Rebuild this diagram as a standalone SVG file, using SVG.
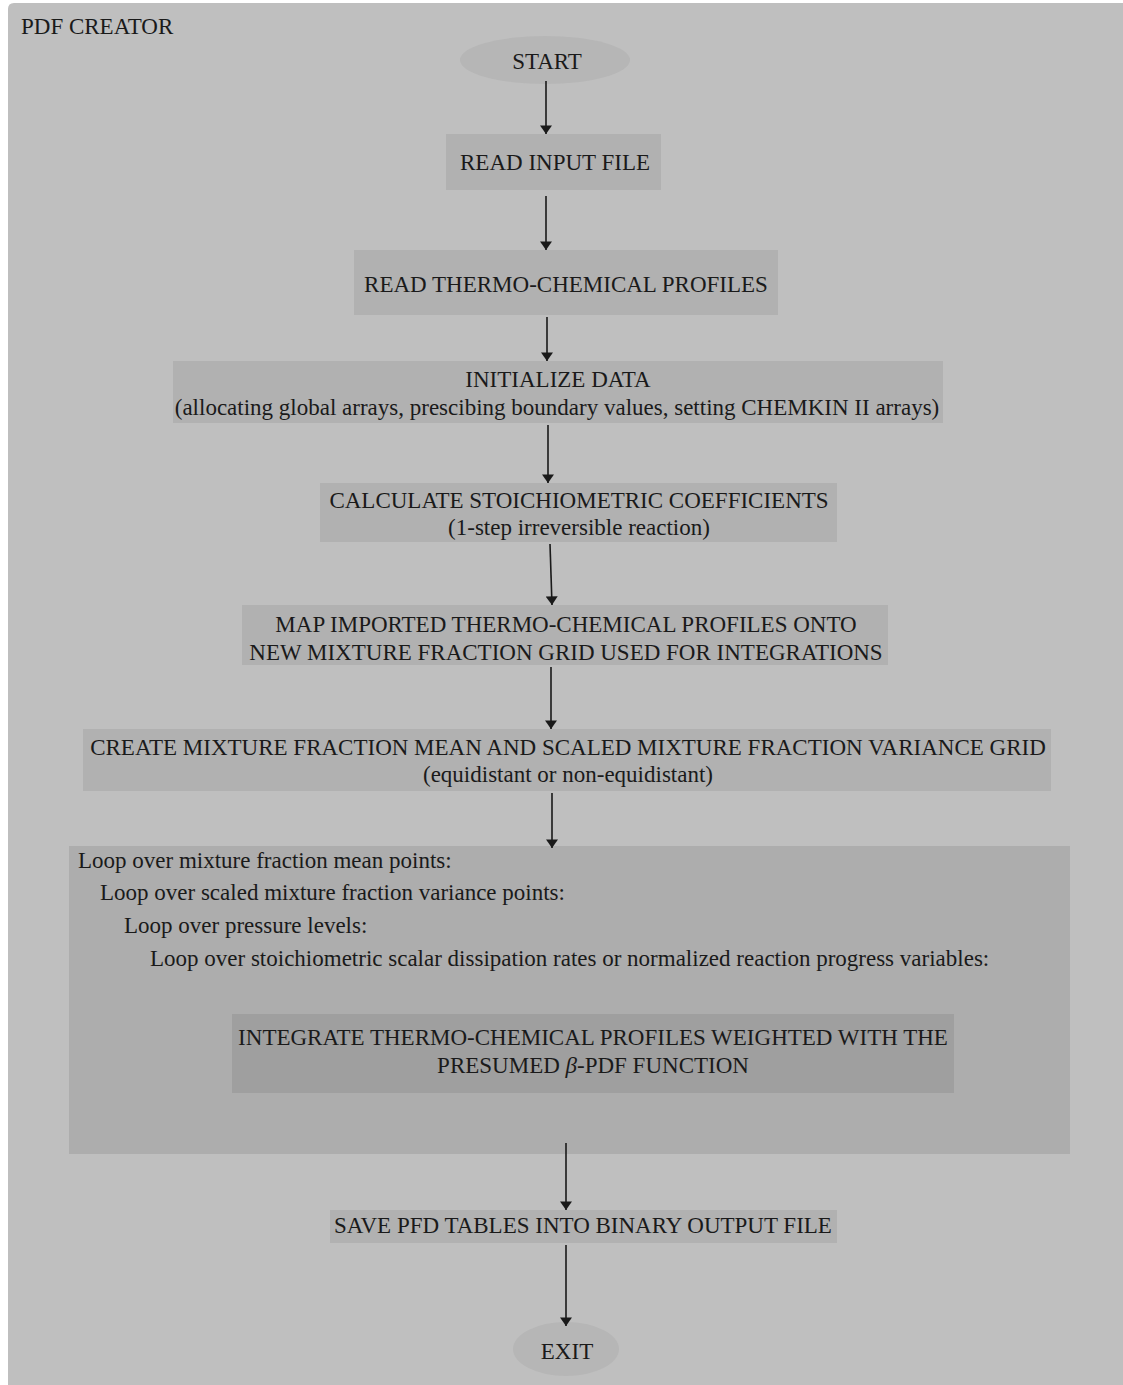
<svg xmlns="http://www.w3.org/2000/svg" width="1123" height="1385" viewBox="0 0 1123 1385">
<style>
text{font-family:"Liberation Serif","Times New Roman",serif;font-size:23px;fill:#1a1a1a}
.c{text-anchor:middle}
.box{fill:#b1b1b1}
.ell{fill:#b6b6b6}
.conn line{stroke:#1a1a1a;stroke-width:1.6;marker-end:url(#ah)}
</style>
<defs>
<marker id="ah" viewBox="0 0 10 14" refX="10" refY="7" markerWidth="5.5" markerHeight="7.5" orient="auto" markerUnits="strokeWidth">
<path d="M0,0 L10,7 L0,14 Z" fill="#1a1a1a"/>
</marker>
</defs>
<rect x="0" y="0" width="1123" height="1385" fill="#ffffff"/>
<g id="frame">
<path d="M8,9 Q8,3 14,3 L1123,3 L1123,1385 L8,1385 Z" fill="#bfbfbf"/>
<text x="21" y="34">PDF CREATOR</text>
</g>
<g id="start"><ellipse class="ell" cx="545" cy="60" rx="85" ry="24"/><text class="c" x="547" y="69">START</text></g>
<g id="read-input"><rect class="box" x="446" y="134" width="215" height="56"/><text class="c" x="555" y="170">READ INPUT FILE</text></g>
<g id="read-thermo"><rect class="box" x="354" y="250" width="424" height="65"/><text class="c" x="566" y="292">READ THERMO-CHEMICAL PROFILES</text></g>
<g id="init"><rect class="box" x="173" y="361" width="770" height="62"/><text class="c" x="558" y="387">INITIALIZE DATA</text><text class="c" x="557" y="415">(allocating global arrays, prescibing boundary values, setting CHEMKIN II arrays)</text></g>
<g id="calc"><rect class="box" x="320" y="483" width="517" height="59"/><text class="c" x="579" y="508">CALCULATE STOICHIOMETRIC COEFFICIENTS</text><text class="c" x="579" y="535">(1-step irreversible reaction)</text></g>
<g id="map"><rect class="box" x="242" y="605" width="646" height="60"/><text class="c" x="566" y="632">MAP IMPORTED THERMO-CHEMICAL PROFILES ONTO</text><text class="c" x="566" y="660">NEW MIXTURE FRACTION GRID USED FOR INTEGRATIONS</text></g>
<g id="create"><rect class="box" x="83" y="729" width="968" height="62"/><text class="c" x="568" y="755">CREATE MIXTURE FRACTION MEAN AND SCALED MIXTURE FRACTION VARIANCE GRID</text><text class="c" x="568" y="782">(equidistant or non-equidistant)</text></g>
<g id="loop"><rect x="69" y="846" width="1001" height="308" fill="#adadad"/>
<text x="78" y="868">Loop over mixture fraction mean points:</text>
<text x="100" y="900">Loop over scaled mixture fraction variance points:</text>
<text x="124" y="933">Loop over pressure levels:</text>
<text x="150" y="966">Loop over stoichiometric scalar dissipation rates or normalized reaction progress variables:</text>
</g>
<g id="integrate"><rect x="232" y="1014" width="722" height="79" fill="#9f9f9f"/><text class="c" x="593" y="1045">INTEGRATE THERMO-CHEMICAL PROFILES WEIGHTED WITH THE</text><text class="c" x="593" y="1073">PRESUMED <tspan font-style="italic">β</tspan>-PDF FUNCTION</text></g>
<g id="save"><rect class="box" x="330" y="1210" width="507" height="33"/><text class="c" x="583" y="1233">SAVE PFD TABLES INTO BINARY OUTPUT FILE</text></g>
<g id="exit"><ellipse class="ell" cx="566" cy="1349" rx="53" ry="27"/><text class="c" x="567" y="1359">EXIT</text></g>
<g id="connectors" class="conn">
<line x1="546" y1="81" x2="546" y2="134"/>
<line x1="546" y1="196" x2="546" y2="250"/>
<line x1="547" y1="317" x2="547" y2="361"/>
<line x1="548" y1="425" x2="548" y2="483"/>
<line x1="550" y1="544" x2="552" y2="605"/>
<line x1="551" y1="667" x2="551" y2="729"/>
<line x1="552" y1="793" x2="552" y2="848"/>
<line x1="566" y1="1143" x2="566" y2="1210"/>
<line x1="566" y1="1245" x2="566" y2="1326"/>
</g>
</svg>
